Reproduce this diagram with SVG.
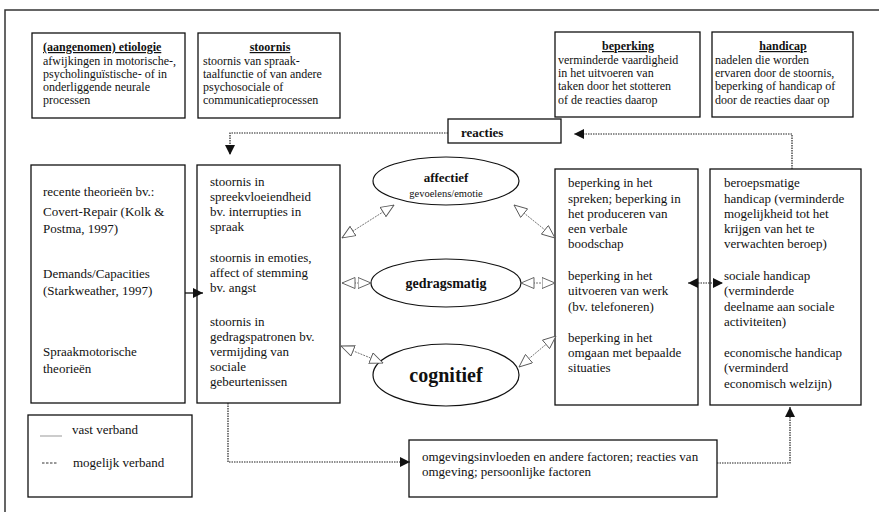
<svg xmlns="http://www.w3.org/2000/svg" width="879" height="512" viewBox="0 0 879 512">
<defs>
<style>
text{font-family:"Liberation Serif","Times New Roman",serif;fill:#111}
.t12{font-size:12px}
.t13{font-size:13px}
.ttl{font-size:12px;font-weight:bold;text-decoration:underline}
.box{fill:#fff;stroke:#111;stroke-width:1.3}
.ell{fill:#fff;stroke:#111;stroke-width:1.2}
.dot{fill:none;stroke:#222;stroke-width:1.2;stroke-dasharray:1.5 1}
.sol{fill:none;stroke:#111;stroke-width:1.3}
.hol{fill:none;stroke:#666;stroke-width:0.9;stroke-dasharray:2 1}
</style>
<marker id="fa" viewBox="0 0 10 10" refX="10" refY="5" markerWidth="10" markerHeight="10" markerUnits="userSpaceOnUse" orient="auto-start-reverse">
<path d="M0,0 L10,5 L0,10 z" fill="#111"/>
</marker>
<marker id="oa" viewBox="0 0 14 12" refX="13.5" refY="6" markerWidth="14" markerHeight="12" markerUnits="userSpaceOnUse" orient="auto-start-reverse">
<path d="M0.5,0.5 L13.5,6 L0.5,11.5 z" fill="#fff" stroke="#555" stroke-width="0.9"/>
</marker>
</defs>
<rect width="879" height="512" fill="#fff"/>
<path d="M5,512 V10 H879" fill="none" stroke="#333" stroke-width="1.5"/>

<g id="etiologie">
<rect class="box" x="32" y="33" width="153" height="85"/>
<text class="ttl" x="43" y="51">(aangenomen) etiologie</text>
<text class="t12" x="43" y="65">afwijkingen in motorische-,</text>
<text class="t12" x="43" y="78">psycholinguïstische- of in</text>
<text class="t12" x="43" y="91">onderliggende neurale</text>
<text class="t12" x="43" y="104">processen</text>
</g>
<g id="stoornis">
<rect class="box" x="198" y="33" width="142" height="85"/>
<text class="ttl" x="270" y="51" text-anchor="middle">stoornis</text>
<text class="t12" x="203" y="65">stoornis van spraak-</text>
<text class="t12" x="203" y="78">taalfunctie of van andere</text>
<text class="t12" x="203" y="91">psychosociale of</text>
<text class="t12" x="203" y="104">communicatieprocessen</text>
</g>
<g id="beperking">
<rect class="box" x="555" y="32" width="145" height="85"/>
<text class="ttl" x="628" y="50" text-anchor="middle">beperking</text>
<text class="t12" x="558" y="64">verminderde vaardigheid</text>
<text class="t12" x="558" y="77">in het uitvoeren van</text>
<text class="t12" x="558" y="90">taken door het stotteren</text>
<text class="t12" x="558" y="104">of de reacties daarop</text>
</g>
<g id="handicap">
<rect class="box" x="712" y="32" width="141" height="85"/>
<text class="ttl" x="783" y="50" text-anchor="middle">handicap</text>
<text class="t12" x="715" y="64">nadelen die worden</text>
<text class="t12" x="715" y="77">ervaren door de stoornis,</text>
<text class="t12" x="715" y="90">beperking of handicap of</text>
<text class="t12" x="715" y="104">door de reacties daar op</text>
</g>
<g id="reacties">
<rect class="box" x="448" y="119" width="113" height="24"/>
<text class="t13" x="461" y="137" font-weight="bold">reacties</text>
</g>
<g id="theorieen">
<rect class="box" x="31" y="165" width="154" height="238"/>
<text class="t13" x="43" y="196">recente theorieën bv.:</text>
<text class="t13" x="43" y="216">Covert-Repair (Kolk &amp;</text>
<text class="t13" x="43" y="233">Postma, 1997)</text>
<text class="t13" x="43" y="278">Demands/Capacities</text>
<text class="t13" x="43" y="295">(Starkweather, 1997)</text>
<text class="t13" x="43" y="356">Spraakmotorische</text>
<text class="t13" x="43" y="373">theorieën</text>
</g>
<g id="stoornis-in">
<rect class="box" x="197" y="165" width="143" height="238"/>
<text class="t13" x="210" y="186">stoornis in</text>
<text class="t13" x="210" y="201">spreekvloeiendheid</text>
<text class="t13" x="210" y="216">bv. interrupties in</text>
<text class="t13" x="210" y="231">spraak</text>
<text class="t13" x="210" y="262">stoornis in emoties,</text>
<text class="t13" x="210" y="277">affect of stemming</text>
<text class="t13" x="210" y="292">bv. angst</text>
<text class="t13" x="210" y="326">stoornis in</text>
<text class="t13" x="210" y="341">gedragspatronen bv.</text>
<text class="t13" x="210" y="356">vermijding van</text>
<text class="t13" x="210" y="371">sociale</text>
<text class="t13" x="210" y="386">gebeurtenissen</text>
</g>
<g id="affectief">
<ellipse class="ell" cx="446" cy="181" rx="73" ry="24"/>
<text x="446" y="182" text-anchor="middle" font-size="13" font-weight="bold">affectief</text>
<text x="446" y="197" text-anchor="middle" font-size="10.5">gevoelens/emotie</text>
</g>
<g id="gedragsmatig">
<ellipse class="ell" cx="446" cy="283" rx="75" ry="24"/>
<text x="446" y="288" text-anchor="middle" font-size="14" font-weight="bold">gedragsmatig</text>
</g>
<g id="cognitief">
<ellipse class="ell" cx="446" cy="375" rx="73" ry="31"/>
<text x="446" y="382" text-anchor="middle" font-size="20" font-weight="bold">cognitief</text>
</g>
<g id="beperking-in">
<rect class="box" x="555" y="169" width="143" height="236"/>
<text class="t13" x="568" y="187">beperking in het</text>
<text class="t13" x="568" y="203">spreken; beperking in</text>
<text class="t13" x="568" y="218">het produceren van</text>
<text class="t13" x="568" y="233">een verbale</text>
<text class="t13" x="568" y="248">boodschap</text>
<text class="t13" x="568" y="280">beperking in het</text>
<text class="t13" x="568" y="295">uitvoeren van werk</text>
<text class="t13" x="568" y="311">(bv. telefoneren)</text>
<text class="t13" x="568" y="342">beperking in het</text>
<text class="t13" x="568" y="357">omgaan met bepaalde</text>
<text class="t13" x="568" y="372">situaties</text>
</g>
<g id="handicap-soorten">
<rect class="box" x="710" y="169" width="151" height="236"/>
<text class="t13" x="724" y="187">beroepsmatige</text>
<text class="t13" x="724" y="203">handicap (verminderde</text>
<text class="t13" x="724" y="218">mogelijkheid tot het</text>
<text class="t13" x="724" y="233">krijgen van het te</text>
<text class="t13" x="724" y="248">verwachten beroep)</text>
<text class="t13" x="724" y="280">sociale handicap</text>
<text class="t13" x="724" y="295">(verminderde</text>
<text class="t13" x="724" y="311">deelname aan sociale</text>
<text class="t13" x="724" y="326">activiteiten)</text>
<text class="t13" x="724" y="357">economische handicap</text>
<text class="t13" x="724" y="372">(verminderd</text>
<text class="t13" x="724" y="388">economisch welzijn)</text>
</g>
<g id="omgeving">
<rect class="box" x="409" y="440" width="308" height="57"/>
<text class="t13" x="422" y="461">omgevingsinvloeden en andere factoren; reacties van</text>
<text class="t13" x="422" y="476">omgeving; persoonlijke factoren</text>
</g>
<g id="legenda">
<rect class="box" x="28" y="415" width="164" height="82"/>
<line x1="40" y1="436" x2="62" y2="436" stroke="#999" stroke-width="1"/>
<text class="t13" x="72" y="434">vast verband</text>
<line x1="42" y1="463" x2="58" y2="463" stroke="#333" stroke-width="1" stroke-dasharray="2.5 1.5"/>
<text class="t13" x="73" y="467">mogelijk verband</text>
</g>

<g id="connectors">
<path class="dot" d="M448,133 H230 V155" marker-end="url(#fa)"/>
<path class="dot" d="M792,169 V134 H574" marker-end="url(#fa)"/>
<path class="sol" d="M185,293 H203" marker-end="url(#fa)"/>
<path class="dot" d="M228,403 V462 H410" marker-end="url(#fa)"/>
<path class="dot" d="M717,463 H790 V407" marker-end="url(#fa)"/>
<path class="dot" d="M688,283 H723" marker-start="url(#fa)" marker-end="url(#fa)"/>
<path class="hol" d="M342,238 L394,205" marker-start="url(#oa)" marker-end="url(#oa)"/>
<path class="hol" d="M514,205 L555,238" marker-start="url(#oa)" marker-end="url(#oa)"/>
<path class="hol" d="M342,283 L371,283" marker-start="url(#oa)" marker-end="url(#oa)"/>
<path class="hol" d="M521,283 L555,283" marker-start="url(#oa)" marker-end="url(#oa)"/>
<path class="hol" d="M341,346 L383,363" marker-start="url(#oa)" marker-end="url(#oa)"/>
<path class="hol" d="M519,367 L556,336" marker-start="url(#oa)" marker-end="url(#oa)"/>
</g>
</svg>
